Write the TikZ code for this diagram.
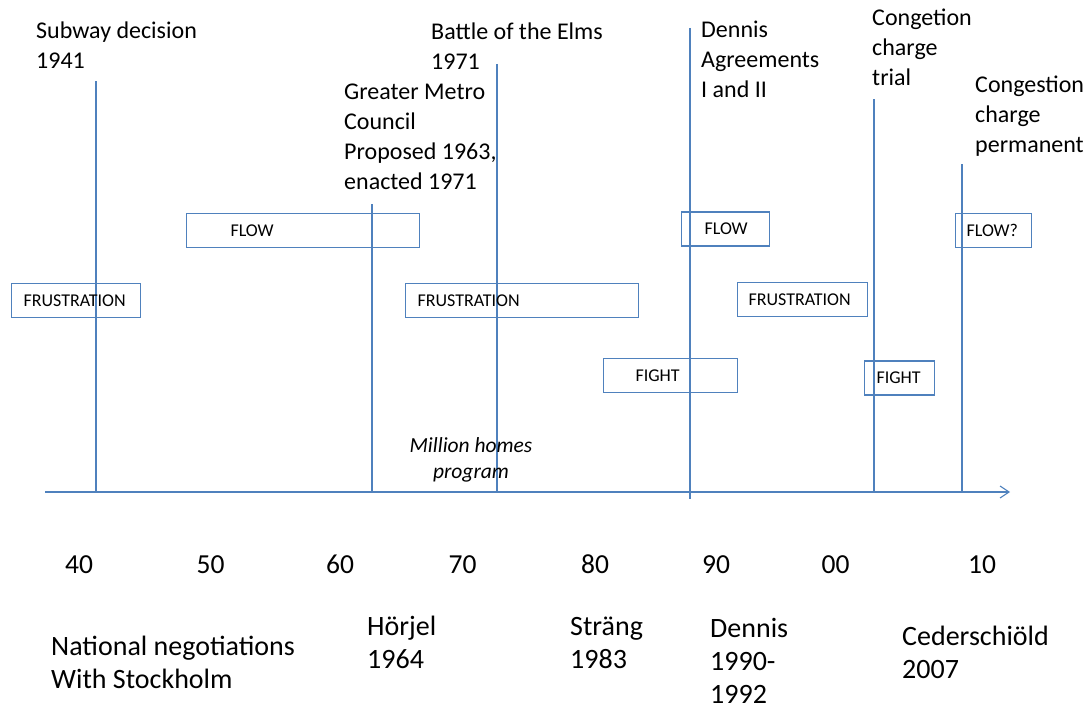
\documentclass[tikz,border=0pt]{standalone}
\usepackage{fontspec}
\setmainfont{Carlito}
\usetikzlibrary{arrows.meta}
\definecolor{tlblue}{RGB}{79,129,189}
\tikzset{
  era line/.style={draw=tlblue, line width=1.1pt},
  phase box/.style={draw=tlblue, line width=1.1pt, anchor=west, align=left,
    minimum height=34pt, inner ysep=0pt, font=\fontsize{18}{20}\selectfont},
  % base = baseline of the last line
  event label/.style={anchor=base west, align=left, inner sep=0pt,
    font=\fontsize{24}{30}\selectfont},
  actor label/.style={anchor=base west, align=left, inner sep=0pt,
    font=\fontsize{28}{33}\selectfont},
  decade label/.style={anchor=base, inner sep=0pt, font=\fontsize{27.5}{33}\selectfont},
}

\begin{document}
\begin{tikzpicture}[x=1pt, y=-1pt]
  \useasboundingbox (0,0) rectangle (1089,709);
  % time axis
  \coordinate (ax0) at (45,492);  \coordinate (ax1) at (1010,492);
  \draw[era line, -{Straight Barb[length=9pt,width=12pt]}] (ax0) -- (ax1);
  % event lines
  \foreach \nm/\x/\y in {sub/96/81, gmc/372/204, elm/497/64, ctr/874/99, cpm/962/164}
    {\coordinate (\nm) at (\x,\y); \draw[era line] (\nm) -- (\nm |- ax0);}
  \coordinate (den) at (690,28);  \coordinate (denb) at (690,499);
  \draw[era line] (den) -- (denb);
  % events
  \node[event label] (subL) at (36,68)   {Subway decision\\1941};
  \node[event label] (gmcL) at (344,189) {Greater Metro\\Council\\Proposed 1963,\\enacted 1971};
  \node[event label] (elmL) at (431,70)  {Battle of the Elms\\1971};
  \node[event label] (denL) at (701,97)  {Dennis\\Agreements\\I and II};
  \node[event label] (ctrL) at (872,85)  {Congetion\\charge\\trial};
  \node[event label] (cpmL) at (975,152) {Congestion\\charge\\permanent};
  % phases
  \node[phase box, inner xsep=44pt, text width=145pt] (flow1) at (186,230.5) {FLOW};
  \node[phase box, inner xsep=12pt, text width=105pt] (frus1) at (11,300.5)  {FRUSTRATION};
  \node[phase box, inner xsep=12pt, text width=209pt] (frus2) at (405,300.5) {FRUSTRATION};
  \node[phase box, inner xsep=32pt, text width=70pt]  (figh1) at (603,375.5) {FIGHT};
  \node[phase box, inner xsep=23pt, text width=42pt]  (flow2) at (681,229)   {FLOW};
  \node[phase box, inner xsep=11pt, text width=108pt] (frus3) at (737,299.5) {FRUSTRATION};
  \node[phase box, inner xsep=12pt, text width=46pt]  (figh2) at (864,378)   {FIGHT};
  \node[phase box, inner xsep=11pt, text width=54pt]  (flow3) at (955,230.5) {FLOW?};
  \node[anchor=base, align=center, inner sep=0pt,
    font=\fontsize{21.5}{26}\selectfont\itshape] (mhp) at (471,478) {Million homes\\program};
  % decades
  \foreach \nm/\x/\t in {d40/79/40, d50/210.5/50, d60/340/60, d70/462.5/70,
                          d80/595/80, d90/716/90, d00/835.5/00, d10/982/10}
    {\node[decade label] (\nm) at (\x,573) {\t};}
  % negotiators
  \node[actor label] (natL) at (51,688)  {National negotiations\\With Stockholm};
  \node[actor label] (horL) at (367,668) {Hörjel\\1964};
  \node[actor label] (strL) at (570,668) {Sträng\\1983};
  \node[actor label] (dnsL) at (710,703) {Dennis\\1990-\\1992};
  \node[actor label] (cedL) at (902,678) {Cederschiöld\\2007};
\end{tikzpicture}
\end{document}
